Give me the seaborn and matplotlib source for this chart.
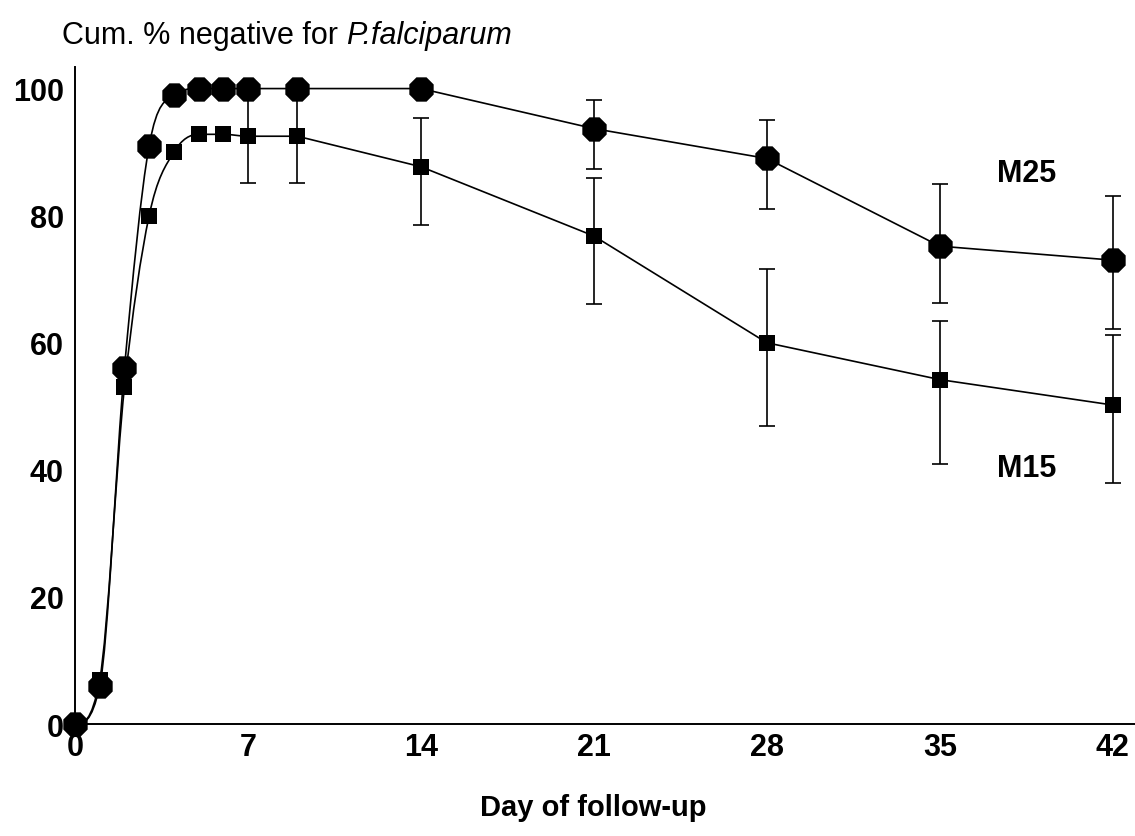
import numpy as np
import pandas as pd
import matplotlib
matplotlib.use("Agg")
import matplotlib.pyplot as plt
from matplotlib.path import Path
from matplotlib.patches import PathPatch
import seaborn as sns

# values
days = [0, 1, 2, 3, 4, 5, 6, 7, 9, 14, 21, 28, 35, 42]
m25_pct = [0, 6, 56, 91, 99, 100, 100, 100, 100, 100, 93.7, 89, 75.2, 73]
m15_pct = [0, 7, 53, 80, 90, 92.8, 92.8, 92.5, 92.5, 87.7, 76.8, 60, 54.2, 50.2]

m25_err_days = [21, 28, 35, 42]
m25_err_low = [87.4, 81.0, 66.2, 62.1]
m25_err_high = [98.2, 95.1, 85.0, 83.1]

m15_err_days = [7, 9, 14, 21, 28, 35, 42]
m15_err_low = [85.2, 85.2, 78.6, 66.1, 46.9, 40.9, 38.0]
m15_err_high = [99.5, 99.5, 95.3, 86.0, 71.6, 63.4, 61.2]

x_ticks = [0, 7, 14, 21, 28, 35, 42]
y_ticks = [0, 20, 40, 60, 80, 100]


def curve_path(x, y, smooth_until=9):
    """Smooth (monotone cubic) path through the points up to day `smooth_until`,
    straight segments after that."""
    x = np.asarray(x, float)
    y = np.asarray(y, float)
    h = np.diff(x)
    d = np.diff(y) / h
    n = len(x)
    m = np.zeros(n)
    for k in range(1, n - 1):
        if d[k - 1] * d[k] > 0:
            m[k] = (y[k + 1] - y[k - 1]) / (x[k + 1] - x[k - 1])
    for k in range(n - 1):
        if d[k] == 0:
            continue
        a, b = m[k] / d[k], m[k + 1] / d[k]
        s = a * a + b * b
        if s > 9:
            t = 3 / np.sqrt(s)
            m[k] *= t
            m[k + 1] *= t
    verts = [(x[0], y[0])]
    codes = [Path.MOVETO]
    for k in range(n - 1):
        if x[k + 1] <= smooth_until:
            verts += [(x[k] + h[k] / 3, y[k] + m[k] * h[k] / 3),
                      (x[k + 1] - h[k] / 3, y[k + 1] - m[k + 1] * h[k] / 3),
                      (x[k + 1], y[k + 1])]
            codes += [Path.CURVE4] * 3
        else:
            verts.append((x[k + 1], y[k + 1]))
            codes.append(Path.LINETO)
    return Path(verts, codes)


def err_args(err_days, pct, low, high):
    mid = [pct[days.index(d)] for d in err_days]
    return mid, [np.subtract(mid, low), np.subtract(high, mid)]


sns.set_theme(style="white")
plt.rcParams['font.family'] = ['Liberation Sans', 'DejaVu Sans']
plt.rcParams['text.color'] = 'black'
plt.rcParams['axes.labelcolor'] = 'black'

df25 = pd.DataFrame({'day': days, 'pct': m25_pct})
df15 = pd.DataFrame({'day': days, 'pct': m15_pct})

fig = plt.figure(figsize=(11.35, 8.37), dpi=100)
ax = fig.add_axes([0.0661, 0.1338, 0.9339, 0.785])

# connecting curves
for pct in (m25_pct, m15_pct):
    ax.add_patch(PathPatch(curve_path(days, pct), fill=False,
                           edgecolor='black', lw=1.2, zorder=2))

# error bars
for err_days, pct, low, high in [(m25_err_days, m25_pct, m25_err_low, m25_err_high),
                                 (m15_err_days, m15_pct, m15_err_low, m15_err_high)]:
    mid, yerr = err_args(err_days, pct, low, high)
    ax.errorbar(err_days, mid, yerr=yerr, fmt='none', ecolor='black',
                elinewidth=1.2, capsize=5.5, capthick=1.2, zorder=1)

# markers
sns.scatterplot(x='day', y='pct', data=df15, marker='s', s=118, color='black',
                edgecolor='black', linewidth=0, ax=ax, zorder=3, clip_on=False)
sns.scatterplot(x='day', y='pct', data=df25, marker='8', s=360, color='black',
                edgecolor='black', linewidth=0, ax=ax, zorder=4, clip_on=False)

# series labels
ax.text(38.5, 86.7, "M25", fontsize=22, fontweight='bold', ha='center', va='center')
ax.text(38.5, 40.3, "M15", fontsize=22, fontweight='bold', ha='center', va='center')

# axes styling
ax.set_xlim(0, 42.9)
ax.set_ylim(0, 103.4)
ax.set_xticks(x_ticks)
ax.set_yticks(y_ticks)
ax.tick_params(axis='both', length=0, labelsize=22, colors='black')
ax.tick_params(axis='y', pad=8)
ax.tick_params(axis='x', pad=6)
for lbl in ax.get_xticklabels() + ax.get_yticklabels():
    lbl.set_fontweight('bold')
for spine in ['top', 'right']:
    ax.spines[spine].set_visible(False)
for spine in ['left', 'bottom']:
    ax.spines[spine].set_color('black')
    ax.spines[spine].set_linewidth(1.4)
ax.grid(False)
ax.set_ylabel('')

ax.set_xlabel('Day of follow-up', fontsize=21, fontweight='bold')
ax.xaxis.set_label_coords((593 - 75) / 1060, (725 - 808) / 657)
ax.xaxis.label.set_va('center')

# title with italic species name
t1 = fig.text(62 / 1135, 1 - 44 / 837, "Cum. % negative for", fontsize=22,
              va='baseline', ha='left')
fig.canvas.draw()
bb = t1.get_window_extent()
fig.text((bb.x1 + 8) / fig.bbox.width, 1 - 44 / 837, "P.falciparum", fontsize=22,
         style='italic', va='baseline', ha='left')

fig.savefig('out.png', dpi=100)
